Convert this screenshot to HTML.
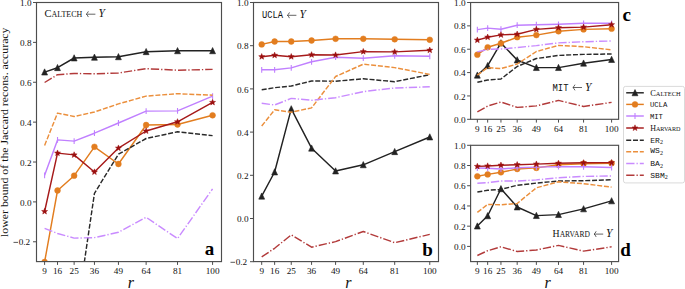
<!DOCTYPE html>
<html><head><meta charset="utf-8"><style>html,body{margin:0;padding:0;background:#fff;}svg{display:block;}</style></head><body>
<svg width="685" height="289" viewBox="0 0 685 289">
<rect width="100%" height="100%" fill="#fff"/>
<defs>
<clipPath id="clipa"><rect x="36.5" y="2.5" width="185" height="259.1"/></clipPath>
<clipPath id="clipb"><rect x="253.5" y="2.5" width="185" height="259.1"/></clipPath>
<clipPath id="clipc"><rect x="470.6" y="2.5" width="148" height="116.8"/></clipPath>
<clipPath id="clipd"><rect x="470.6" y="145.3" width="148" height="116.3"/></clipPath>
</defs>
<g clip-path="url(#clipa)" fill="none" stroke-linejoin="round">
<polyline points="44.6,72.1 57.53,67.7 74.14,58 94.45,57.3 118.44,56.8 146.13,51.7 177.52,50.8 212.59,50.8" stroke="#222222" stroke-width="1.45"/>
<path d="M44.6 68.84L41.66 75.04L47.55 75.04Z" fill="#222222" stroke="#222222" stroke-width="0.6"/>
<path d="M57.53 64.45L54.58 70.64L60.47 70.64Z" fill="#222222" stroke="#222222" stroke-width="0.6"/>
<path d="M74.14 54.74L71.2 60.95L77.08 60.95Z" fill="#222222" stroke="#222222" stroke-width="0.6"/>
<path d="M94.45 54.04L91.5 60.24L97.39 60.24Z" fill="#222222" stroke="#222222" stroke-width="0.6"/>
<path d="M118.44 53.54L115.5 59.74L121.39 59.74Z" fill="#222222" stroke="#222222" stroke-width="0.6"/>
<path d="M146.13 48.45L143.19 54.65L149.08 54.65Z" fill="#222222" stroke="#222222" stroke-width="0.6"/>
<path d="M177.52 47.54L174.57 53.74L180.46 53.74Z" fill="#222222" stroke="#222222" stroke-width="0.6"/>
<path d="M212.59 47.54L209.65 53.74L215.54 53.74Z" fill="#222222" stroke="#222222" stroke-width="0.6"/>
<polyline points="44.6,262 57.53,190.5 74.14,175.7 94.45,146.8 118.44,164 146.13,125 177.52,124.5 212.59,115.3" stroke="#e27d1f" stroke-width="1.45"/>
<circle cx="44.6" cy="262" r="2.9" fill="#e27d1f" stroke="#e27d1f" stroke-width="0.5"/>
<circle cx="57.53" cy="190.5" r="2.9" fill="#e27d1f" stroke="#e27d1f" stroke-width="0.5"/>
<circle cx="74.14" cy="175.7" r="2.9" fill="#e27d1f" stroke="#e27d1f" stroke-width="0.5"/>
<circle cx="94.45" cy="146.8" r="2.9" fill="#e27d1f" stroke="#e27d1f" stroke-width="0.5"/>
<circle cx="118.44" cy="164" r="2.9" fill="#e27d1f" stroke="#e27d1f" stroke-width="0.5"/>
<circle cx="146.13" cy="125" r="2.9" fill="#e27d1f" stroke="#e27d1f" stroke-width="0.5"/>
<circle cx="177.52" cy="124.5" r="2.9" fill="#e27d1f" stroke="#e27d1f" stroke-width="0.5"/>
<circle cx="212.59" cy="115.3" r="2.9" fill="#e27d1f" stroke="#e27d1f" stroke-width="0.5"/>
<polyline points="44.6,175.3 57.53,139.9 74.14,141.1 94.45,133.2 118.44,123 146.13,111.1 177.52,110.9 212.59,96.1" stroke="#c080ff" stroke-width="1.45"/>
<path d="M44.6 172.4V178.2" stroke="#c080ff" stroke-width="1.1" fill="none"/>
<path d="M57.53 137V142.8" stroke="#c080ff" stroke-width="1.1" fill="none"/>
<path d="M74.14 138.2V144" stroke="#c080ff" stroke-width="1.1" fill="none"/>
<path d="M94.45 130.3V136.1" stroke="#c080ff" stroke-width="1.1" fill="none"/>
<path d="M118.44 120.1V125.9" stroke="#c080ff" stroke-width="1.1" fill="none"/>
<path d="M146.13 108.2V114" stroke="#c080ff" stroke-width="1.1" fill="none"/>
<path d="M177.52 108V113.8" stroke="#c080ff" stroke-width="1.1" fill="none"/>
<path d="M212.59 93.2V99" stroke="#c080ff" stroke-width="1.1" fill="none"/>
<polyline points="44.6,211.5 57.53,153.1 74.14,154.9 94.45,172 118.44,148.1 146.13,131 177.52,121.8 212.59,102.4" stroke="#a61a1a" stroke-width="1.45"/>
<polygon points="44.6,208.35 45.4,210.41 47.6,210.53 45.89,211.92 46.46,214.05 44.6,212.85 42.75,214.05 43.32,211.92 41.61,210.53 43.81,210.41" fill="#9a0f0f" stroke="#9a0f0f" stroke-width="0.5"/>
<polygon points="57.53,149.95 58.32,152.01 60.52,152.13 58.81,153.52 59.38,155.65 57.53,154.45 55.67,155.65 56.24,153.52 54.53,152.13 56.73,152.01" fill="#9a0f0f" stroke="#9a0f0f" stroke-width="0.5"/>
<polygon points="74.14,151.75 74.93,153.81 77.14,153.93 75.42,155.32 75.99,157.45 74.14,156.25 72.29,157.45 72.86,155.32 71.14,153.93 73.35,153.81" fill="#9a0f0f" stroke="#9a0f0f" stroke-width="0.5"/>
<polygon points="94.45,168.85 95.24,170.91 97.44,171.03 95.73,172.42 96.3,174.55 94.45,173.35 92.59,174.55 93.16,172.42 91.45,171.03 93.65,170.91" fill="#9a0f0f" stroke="#9a0f0f" stroke-width="0.5"/>
<polygon points="118.44,144.95 119.24,147.01 121.44,147.13 119.73,148.52 120.3,150.65 118.44,149.45 116.59,150.65 117.16,148.52 115.45,147.13 117.65,147.01" fill="#9a0f0f" stroke="#9a0f0f" stroke-width="0.5"/>
<polygon points="146.13,127.85 146.93,129.91 149.13,130.03 147.42,131.42 147.99,133.55 146.13,132.35 144.28,133.55 144.85,131.42 143.14,130.03 145.34,129.91" fill="#9a0f0f" stroke="#9a0f0f" stroke-width="0.5"/>
<polygon points="177.52,118.65 178.31,120.71 180.51,120.83 178.8,122.22 179.37,124.35 177.52,123.15 175.66,124.35 176.23,122.22 174.52,120.83 176.72,120.71" fill="#9a0f0f" stroke="#9a0f0f" stroke-width="0.5"/>
<polygon points="212.59,99.25 213.38,101.31 215.59,101.43 213.87,102.82 214.44,104.95 212.59,103.75 210.74,104.95 211.31,102.82 209.59,101.43 211.8,101.31" fill="#9a0f0f" stroke="#9a0f0f" stroke-width="0.5"/>
<polyline points="44.6,420 57.53,380 74.14,331.3 94.45,193.3 118.44,154.2 146.13,138.5 177.52,131.8 212.59,135.6" stroke="#2a2a2a" stroke-width="1.45" stroke-dasharray="5,1.8"/>
<polyline points="44.6,145.5 57.53,113.1 74.14,116.5 94.45,112 118.44,103.9 146.13,96.1 177.52,93.7 212.59,95.2" stroke="#eb8f3c" stroke-width="1.45" stroke-dasharray="5,1.8"/>
<polyline points="44.6,228.4 57.53,233.5 74.14,238.1 94.45,237.6 118.44,232.3 146.13,217.3 177.52,238.6 212.59,188.8" stroke="#c98bff" stroke-width="1.45" stroke-dasharray="8.3,2,1.3,2"/>
<polyline points="44.6,82.5 57.53,74.7 74.14,73.5 94.45,73.8 118.44,73 146.13,68.7 177.52,70.2 212.59,69.4" stroke="#b23a3a" stroke-width="1.45" stroke-dasharray="8.3,2,1.3,2"/>
</g>
<rect x="36.5" y="2.5" width="185" height="259.1" fill="none" stroke="#4d4d4d" stroke-width="1.15"/>
<path d="M33 2.5H36.5" stroke="#4d4d4d" stroke-width="1"/>
<text x="31.5" y="6.1" font-family="Liberation Serif" font-size="9.2" text-anchor="end" fill="#111">1.0</text>
<path d="M33 42.38H36.5" stroke="#4d4d4d" stroke-width="1"/>
<text x="31.5" y="45.98" font-family="Liberation Serif" font-size="9.2" text-anchor="end" fill="#111">0.8</text>
<path d="M33 82.26H36.5" stroke="#4d4d4d" stroke-width="1"/>
<text x="31.5" y="85.86" font-family="Liberation Serif" font-size="9.2" text-anchor="end" fill="#111">0.6</text>
<path d="M33 122.14H36.5" stroke="#4d4d4d" stroke-width="1"/>
<text x="31.5" y="125.74" font-family="Liberation Serif" font-size="9.2" text-anchor="end" fill="#111">0.4</text>
<path d="M33 162.02H36.5" stroke="#4d4d4d" stroke-width="1"/>
<text x="31.5" y="165.62" font-family="Liberation Serif" font-size="9.2" text-anchor="end" fill="#111">0.2</text>
<path d="M33 201.9H36.5" stroke="#4d4d4d" stroke-width="1"/>
<text x="31.5" y="205.5" font-family="Liberation Serif" font-size="9.2" text-anchor="end" fill="#111">0.0</text>
<path d="M33 241.78H36.5" stroke="#4d4d4d" stroke-width="1"/>
<text x="30.2" y="245.38" font-family="Liberation Serif" font-size="9.2" text-anchor="end" fill="#111">0.2</text>
<path d="M13.5 242.38H18" stroke="#222" stroke-width="0.75"/>
<path d="M44.6 261.6V264.9" stroke="#4d4d4d" stroke-width="1"/>
<text x="44.6" y="274.3" font-family="Liberation Serif" font-size="9.2" text-anchor="middle" fill="#111">9</text>
<path d="M57.53 261.6V264.9" stroke="#4d4d4d" stroke-width="1"/>
<text x="57.53" y="274.3" font-family="Liberation Serif" font-size="9.2" text-anchor="middle" fill="#111">16</text>
<path d="M74.14 261.6V264.9" stroke="#4d4d4d" stroke-width="1"/>
<text x="74.14" y="274.3" font-family="Liberation Serif" font-size="9.2" text-anchor="middle" fill="#111">25</text>
<path d="M94.45 261.6V264.9" stroke="#4d4d4d" stroke-width="1"/>
<text x="94.45" y="274.3" font-family="Liberation Serif" font-size="9.2" text-anchor="middle" fill="#111">36</text>
<path d="M118.44 261.6V264.9" stroke="#4d4d4d" stroke-width="1"/>
<text x="118.44" y="274.3" font-family="Liberation Serif" font-size="9.2" text-anchor="middle" fill="#111">49</text>
<path d="M146.13 261.6V264.9" stroke="#4d4d4d" stroke-width="1"/>
<text x="146.13" y="274.3" font-family="Liberation Serif" font-size="9.2" text-anchor="middle" fill="#111">64</text>
<path d="M177.52 261.6V264.9" stroke="#4d4d4d" stroke-width="1"/>
<text x="177.52" y="274.3" font-family="Liberation Serif" font-size="9.2" text-anchor="middle" fill="#111">81</text>
<path d="M212.59 261.6V264.9" stroke="#4d4d4d" stroke-width="1"/>
<text x="212.59" y="274.3" font-family="Liberation Serif" font-size="9.2" text-anchor="middle" fill="#111">100</text>
<g clip-path="url(#clipb)" fill="none" stroke-linejoin="round">
<polyline points="261.7,196.2 274.63,172 291.25,108.9 311.57,148.2 335.58,171 363.29,164.8 394.69,151.7 429.78,137" stroke="#222222" stroke-width="1.45"/>
<path d="M261.7 192.94L258.76 199.14L264.65 199.14Z" fill="#222222" stroke="#222222" stroke-width="0.6"/>
<path d="M274.63 168.75L271.69 174.94L277.58 174.94Z" fill="#222222" stroke="#222222" stroke-width="0.6"/>
<path d="M291.25 105.65L288.31 111.84L294.2 111.84Z" fill="#222222" stroke="#222222" stroke-width="0.6"/>
<path d="M311.57 144.94L308.63 151.14L314.52 151.14Z" fill="#222222" stroke="#222222" stroke-width="0.6"/>
<path d="M335.58 167.75L332.64 173.94L338.53 173.94Z" fill="#222222" stroke="#222222" stroke-width="0.6"/>
<path d="M363.29 161.55L360.34 167.75L366.23 167.75Z" fill="#222222" stroke="#222222" stroke-width="0.6"/>
<path d="M394.69 148.44L391.74 154.64L397.63 154.64Z" fill="#222222" stroke="#222222" stroke-width="0.6"/>
<path d="M429.78 133.75L426.83 139.94L432.72 139.94Z" fill="#222222" stroke="#222222" stroke-width="0.6"/>
<polyline points="261.7,44.4 274.63,41.5 291.25,41.5 311.57,40.5 335.58,38.8 363.29,38.8 394.69,39.3 429.78,39.8" stroke="#e27d1f" stroke-width="1.45"/>
<circle cx="261.7" cy="44.4" r="2.9" fill="#e27d1f" stroke="#e27d1f" stroke-width="0.5"/>
<circle cx="274.63" cy="41.5" r="2.9" fill="#e27d1f" stroke="#e27d1f" stroke-width="0.5"/>
<circle cx="291.25" cy="41.5" r="2.9" fill="#e27d1f" stroke="#e27d1f" stroke-width="0.5"/>
<circle cx="311.57" cy="40.5" r="2.9" fill="#e27d1f" stroke="#e27d1f" stroke-width="0.5"/>
<circle cx="335.58" cy="38.8" r="2.9" fill="#e27d1f" stroke="#e27d1f" stroke-width="0.5"/>
<circle cx="363.29" cy="38.8" r="2.9" fill="#e27d1f" stroke="#e27d1f" stroke-width="0.5"/>
<circle cx="394.69" cy="39.3" r="2.9" fill="#e27d1f" stroke="#e27d1f" stroke-width="0.5"/>
<circle cx="429.78" cy="39.8" r="2.9" fill="#e27d1f" stroke="#e27d1f" stroke-width="0.5"/>
<polyline points="261.7,69.8 274.63,69.8 291.25,67.9 311.57,61.8 335.58,57.2 363.29,58.2 394.69,55.8 429.78,56.3" stroke="#c080ff" stroke-width="1.45"/>
<path d="M261.7 66.9V72.7" stroke="#c080ff" stroke-width="1.1" fill="none"/>
<path d="M274.63 66.9V72.7" stroke="#c080ff" stroke-width="1.1" fill="none"/>
<path d="M291.25 65V70.8" stroke="#c080ff" stroke-width="1.1" fill="none"/>
<path d="M311.57 58.9V64.7" stroke="#c080ff" stroke-width="1.1" fill="none"/>
<path d="M335.58 54.3V60.1" stroke="#c080ff" stroke-width="1.1" fill="none"/>
<path d="M363.29 55.3V61.1" stroke="#c080ff" stroke-width="1.1" fill="none"/>
<path d="M394.69 52.9V58.7" stroke="#c080ff" stroke-width="1.1" fill="none"/>
<path d="M429.78 53.4V59.2" stroke="#c080ff" stroke-width="1.1" fill="none"/>
<polyline points="261.7,56.7 274.63,55.3 291.25,56.7 311.57,54.8 335.58,55 363.29,51.6 394.69,51.9 429.78,50.2" stroke="#a61a1a" stroke-width="1.45"/>
<polygon points="261.7,53.55 262.5,55.61 264.7,55.73 262.99,57.12 263.55,59.25 261.7,58.05 259.85,59.25 260.42,57.12 258.71,55.73 260.91,55.61" fill="#9a0f0f" stroke="#9a0f0f" stroke-width="0.5"/>
<polygon points="274.63,52.15 275.43,54.21 277.63,54.33 275.92,55.72 276.48,57.85 274.63,56.65 272.78,57.85 273.35,55.72 271.64,54.33 273.84,54.21" fill="#9a0f0f" stroke="#9a0f0f" stroke-width="0.5"/>
<polygon points="291.25,53.55 292.05,55.61 294.25,55.73 292.54,57.12 293.11,59.25 291.25,58.05 289.4,59.25 289.97,57.12 288.26,55.73 290.46,55.61" fill="#9a0f0f" stroke="#9a0f0f" stroke-width="0.5"/>
<polygon points="311.57,51.65 312.37,53.71 314.57,53.83 312.86,55.22 313.42,57.35 311.57,56.15 309.72,57.35 310.29,55.22 308.58,53.83 310.78,53.71" fill="#9a0f0f" stroke="#9a0f0f" stroke-width="0.5"/>
<polygon points="335.58,51.85 336.38,53.91 338.58,54.03 336.87,55.42 337.43,57.55 335.58,56.35 333.73,57.55 334.3,55.42 332.59,54.03 334.79,53.91" fill="#9a0f0f" stroke="#9a0f0f" stroke-width="0.5"/>
<polygon points="363.29,48.45 364.08,50.51 366.28,50.63 364.57,52.02 365.14,54.15 363.29,52.95 361.44,54.15 362,52.02 360.29,50.63 362.49,50.51" fill="#9a0f0f" stroke="#9a0f0f" stroke-width="0.5"/>
<polygon points="394.69,48.75 395.48,50.81 397.68,50.93 395.97,52.32 396.54,54.45 394.69,53.25 392.84,54.45 393.4,52.32 391.69,50.93 393.89,50.81" fill="#9a0f0f" stroke="#9a0f0f" stroke-width="0.5"/>
<polygon points="429.78,47.05 430.57,49.11 432.78,49.23 431.06,50.62 431.63,52.75 429.78,51.55 427.93,52.75 428.5,50.62 426.78,49.23 428.99,49.11" fill="#9a0f0f" stroke="#9a0f0f" stroke-width="0.5"/>
<polyline points="261.7,89.7 274.63,87.7 291.25,86 311.57,81 335.58,81.2 363.29,78.8 394.69,81.7 429.78,74.7" stroke="#2a2a2a" stroke-width="1.45" stroke-dasharray="5,1.8"/>
<polyline points="261.7,126 274.63,109.8 291.25,112.2 311.57,107.9 335.58,76.5 363.29,64.2 394.69,67.6 429.78,74.4" stroke="#eb8f3c" stroke-width="1.45" stroke-dasharray="5,1.8"/>
<polyline points="261.7,103.3 274.63,105 291.25,98.4 311.57,100.3 335.58,97.7 363.29,91.6 394.69,88 429.78,86.8" stroke="#c98bff" stroke-width="1.45" stroke-dasharray="8.3,2,1.3,2"/>
<polyline points="261.7,256.9 274.63,248.3 291.25,234.9 311.57,247.2 335.58,241.6 363.29,231.5 394.69,242.7 429.78,234.4" stroke="#b23a3a" stroke-width="1.45" stroke-dasharray="8.3,2,1.3,2"/>
</g>
<rect x="253.5" y="2.5" width="185" height="259.1" fill="none" stroke="#4d4d4d" stroke-width="1.15"/>
<path d="M250 2.5H253.5" stroke="#4d4d4d" stroke-width="1"/>
<text x="248.5" y="6.1" font-family="Liberation Serif" font-size="9.2" text-anchor="end" fill="#111">1.0</text>
<path d="M250 45.7H253.5" stroke="#4d4d4d" stroke-width="1"/>
<text x="248.5" y="49.3" font-family="Liberation Serif" font-size="9.2" text-anchor="end" fill="#111">0.8</text>
<path d="M250 88.9H253.5" stroke="#4d4d4d" stroke-width="1"/>
<text x="248.5" y="92.5" font-family="Liberation Serif" font-size="9.2" text-anchor="end" fill="#111">0.6</text>
<path d="M250 132.1H253.5" stroke="#4d4d4d" stroke-width="1"/>
<text x="248.5" y="135.7" font-family="Liberation Serif" font-size="9.2" text-anchor="end" fill="#111">0.4</text>
<path d="M250 175.3H253.5" stroke="#4d4d4d" stroke-width="1"/>
<text x="248.5" y="178.9" font-family="Liberation Serif" font-size="9.2" text-anchor="end" fill="#111">0.2</text>
<path d="M250 218.5H253.5" stroke="#4d4d4d" stroke-width="1"/>
<text x="248.5" y="222.1" font-family="Liberation Serif" font-size="9.2" text-anchor="end" fill="#111">0.0</text>
<path d="M250 261.7H253.5" stroke="#4d4d4d" stroke-width="1"/>
<text x="247.2" y="265.3" font-family="Liberation Serif" font-size="9.2" text-anchor="end" fill="#111">0.2</text>
<path d="M230.5 262.3H235" stroke="#222" stroke-width="0.75"/>
<path d="M261.7 261.6V264.9" stroke="#4d4d4d" stroke-width="1"/>
<text x="261.7" y="274.3" font-family="Liberation Serif" font-size="9.2" text-anchor="middle" fill="#111">9</text>
<path d="M274.63 261.6V264.9" stroke="#4d4d4d" stroke-width="1"/>
<text x="274.63" y="274.3" font-family="Liberation Serif" font-size="9.2" text-anchor="middle" fill="#111">16</text>
<path d="M291.25 261.6V264.9" stroke="#4d4d4d" stroke-width="1"/>
<text x="291.25" y="274.3" font-family="Liberation Serif" font-size="9.2" text-anchor="middle" fill="#111">25</text>
<path d="M311.57 261.6V264.9" stroke="#4d4d4d" stroke-width="1"/>
<text x="311.57" y="274.3" font-family="Liberation Serif" font-size="9.2" text-anchor="middle" fill="#111">36</text>
<path d="M335.58 261.6V264.9" stroke="#4d4d4d" stroke-width="1"/>
<text x="335.58" y="274.3" font-family="Liberation Serif" font-size="9.2" text-anchor="middle" fill="#111">49</text>
<path d="M363.29 261.6V264.9" stroke="#4d4d4d" stroke-width="1"/>
<text x="363.29" y="274.3" font-family="Liberation Serif" font-size="9.2" text-anchor="middle" fill="#111">64</text>
<path d="M394.69 261.6V264.9" stroke="#4d4d4d" stroke-width="1"/>
<text x="394.69" y="274.3" font-family="Liberation Serif" font-size="9.2" text-anchor="middle" fill="#111">81</text>
<path d="M429.78 261.6V264.9" stroke="#4d4d4d" stroke-width="1"/>
<text x="429.78" y="274.3" font-family="Liberation Serif" font-size="9.2" text-anchor="middle" fill="#111">100</text>
<g clip-path="url(#clipc)" fill="none" stroke-linejoin="round">
<polyline points="477.35,75.2 487.67,65.7 500.95,42.9 517.18,60 536.36,67.6 558.49,67.6 583.57,63.2 611.6,59.5" stroke="#222222" stroke-width="1.45"/>
<path d="M477.35 71.95L474.4 78.14L480.29 78.14Z" fill="#222222" stroke="#222222" stroke-width="0.6"/>
<path d="M487.67 62.45L484.73 68.64L490.62 68.64Z" fill="#222222" stroke="#222222" stroke-width="0.6"/>
<path d="M500.95 39.64L498.01 45.84L503.9 45.84Z" fill="#222222" stroke="#222222" stroke-width="0.6"/>
<path d="M517.18 56.74L514.24 62.95L520.13 62.95Z" fill="#222222" stroke="#222222" stroke-width="0.6"/>
<path d="M536.36 64.34L533.41 70.54L539.3 70.54Z" fill="#222222" stroke="#222222" stroke-width="0.6"/>
<path d="M558.49 64.34L555.54 70.54L561.43 70.54Z" fill="#222222" stroke="#222222" stroke-width="0.6"/>
<path d="M583.57 59.95L580.62 66.14L586.51 66.14Z" fill="#222222" stroke="#222222" stroke-width="0.6"/>
<path d="M611.6 56.24L608.65 62.45L614.55 62.45Z" fill="#222222" stroke="#222222" stroke-width="0.6"/>
<polyline points="477.35,54.7 487.67,47.3 500.95,43.3 517.18,37.2 536.36,35.1 558.49,31.3 583.57,29.4 611.6,28.7" stroke="#e27d1f" stroke-width="1.45"/>
<circle cx="477.35" cy="54.7" r="2.9" fill="#e27d1f" stroke="#e27d1f" stroke-width="0.5"/>
<circle cx="487.67" cy="47.3" r="2.9" fill="#e27d1f" stroke="#e27d1f" stroke-width="0.5"/>
<circle cx="500.95" cy="43.3" r="2.9" fill="#e27d1f" stroke="#e27d1f" stroke-width="0.5"/>
<circle cx="517.18" cy="37.2" r="2.9" fill="#e27d1f" stroke="#e27d1f" stroke-width="0.5"/>
<circle cx="536.36" cy="35.1" r="2.9" fill="#e27d1f" stroke="#e27d1f" stroke-width="0.5"/>
<circle cx="558.49" cy="31.3" r="2.9" fill="#e27d1f" stroke="#e27d1f" stroke-width="0.5"/>
<circle cx="583.57" cy="29.4" r="2.9" fill="#e27d1f" stroke="#e27d1f" stroke-width="0.5"/>
<circle cx="611.6" cy="28.7" r="2.9" fill="#e27d1f" stroke="#e27d1f" stroke-width="0.5"/>
<polyline points="477.35,29.6 487.67,28.1 500.95,29.2 517.18,25.2 536.36,24.7 558.49,24.3 583.57,23.3 611.6,23.3" stroke="#c080ff" stroke-width="1.45"/>
<path d="M477.35 26.7V32.5" stroke="#c080ff" stroke-width="1.1" fill="none"/>
<path d="M487.67 25.2V31" stroke="#c080ff" stroke-width="1.1" fill="none"/>
<path d="M500.95 26.3V32.1" stroke="#c080ff" stroke-width="1.1" fill="none"/>
<path d="M517.18 22.3V28.1" stroke="#c080ff" stroke-width="1.1" fill="none"/>
<path d="M536.36 21.8V27.6" stroke="#c080ff" stroke-width="1.1" fill="none"/>
<path d="M558.49 21.4V27.2" stroke="#c080ff" stroke-width="1.1" fill="none"/>
<path d="M583.57 20.4V26.2" stroke="#c080ff" stroke-width="1.1" fill="none"/>
<path d="M611.6 20.4V26.2" stroke="#c080ff" stroke-width="1.1" fill="none"/>
<polyline points="477.35,40.1 487.67,37.2 500.95,34.9 517.18,34.2 536.36,29.4 558.49,27.7 583.57,27.1 611.6,24.7" stroke="#a61a1a" stroke-width="1.45"/>
<polygon points="477.35,36.95 478.14,39.01 480.34,39.13 478.63,40.52 479.2,42.65 477.35,41.45 475.5,42.65 476.06,40.52 474.35,39.13 476.55,39.01" fill="#9a0f0f" stroke="#9a0f0f" stroke-width="0.5"/>
<polygon points="487.67,34.05 488.47,36.11 490.67,36.23 488.96,37.62 489.53,39.75 487.67,38.55 485.82,39.75 486.39,37.62 484.68,36.23 486.88,36.11" fill="#9a0f0f" stroke="#9a0f0f" stroke-width="0.5"/>
<polygon points="500.95,31.75 501.75,33.81 503.95,33.93 502.24,35.32 502.8,37.45 500.95,36.25 499.1,37.45 499.67,35.32 497.96,33.93 500.16,33.81" fill="#9a0f0f" stroke="#9a0f0f" stroke-width="0.5"/>
<polygon points="517.18,31.05 517.97,33.11 520.18,33.23 518.46,34.62 519.03,36.75 517.18,35.55 515.33,36.75 515.9,34.62 514.18,33.23 516.39,33.11" fill="#9a0f0f" stroke="#9a0f0f" stroke-width="0.5"/>
<polygon points="536.36,26.25 537.15,28.31 539.36,28.43 537.64,29.82 538.21,31.95 536.36,30.75 534.51,31.95 535.08,29.82 533.36,28.43 535.57,28.31" fill="#9a0f0f" stroke="#9a0f0f" stroke-width="0.5"/>
<polygon points="558.49,24.55 559.28,26.61 561.49,26.73 559.77,28.12 560.34,30.25 558.49,29.05 556.64,30.25 557.21,28.12 555.49,26.73 557.7,26.61" fill="#9a0f0f" stroke="#9a0f0f" stroke-width="0.5"/>
<polygon points="583.57,23.95 584.36,26.01 586.57,26.13 584.85,27.52 585.42,29.65 583.57,28.45 581.72,29.65 582.29,27.52 580.57,26.13 582.78,26.01" fill="#9a0f0f" stroke="#9a0f0f" stroke-width="0.5"/>
<polygon points="611.6,21.55 612.39,23.61 614.6,23.73 612.88,25.12 613.45,27.25 611.6,26.05 609.75,27.25 610.32,25.12 608.6,23.73 610.81,23.61" fill="#9a0f0f" stroke="#9a0f0f" stroke-width="0.5"/>
<polyline points="477.35,82.3 487.67,80 500.95,79 517.18,66.5 536.36,58.5 558.49,55.4 583.57,54.4 611.6,54" stroke="#2a2a2a" stroke-width="1.45" stroke-dasharray="5,1.8"/>
<polyline points="477.35,75.2 487.67,67.6 500.95,68.6 517.18,64 536.36,51.5 558.49,45.4 583.57,46.7 611.6,49.8" stroke="#eb8f3c" stroke-width="1.45" stroke-dasharray="5,1.8"/>
<polyline points="477.35,51.9 487.67,49.4 500.95,49 517.18,47.5 536.36,45.6 558.49,42.9 583.57,41.7 611.6,41" stroke="#c98bff" stroke-width="1.45" stroke-dasharray="8.3,2,1.3,2"/>
<polyline points="477.35,111.8 487.67,106.1 500.95,102 517.18,107.4 536.36,105.9 558.49,100.4 583.57,106.5 611.6,102.4" stroke="#b23a3a" stroke-width="1.45" stroke-dasharray="8.3,2,1.3,2"/>
</g>
<rect x="470.6" y="2.5" width="148" height="116.8" fill="none" stroke="#4d4d4d" stroke-width="1.15"/>
<path d="M467.1 2.5H470.6" stroke="#4d4d4d" stroke-width="1"/>
<text x="465.6" y="6.1" font-family="Liberation Serif" font-size="9.2" text-anchor="end" fill="#111">1.0</text>
<path d="M467.1 25.86H470.6" stroke="#4d4d4d" stroke-width="1"/>
<text x="465.6" y="29.46" font-family="Liberation Serif" font-size="9.2" text-anchor="end" fill="#111">0.8</text>
<path d="M467.1 49.22H470.6" stroke="#4d4d4d" stroke-width="1"/>
<text x="465.6" y="52.82" font-family="Liberation Serif" font-size="9.2" text-anchor="end" fill="#111">0.6</text>
<path d="M467.1 72.58H470.6" stroke="#4d4d4d" stroke-width="1"/>
<text x="465.6" y="76.18" font-family="Liberation Serif" font-size="9.2" text-anchor="end" fill="#111">0.4</text>
<path d="M467.1 95.94H470.6" stroke="#4d4d4d" stroke-width="1"/>
<text x="465.6" y="99.54" font-family="Liberation Serif" font-size="9.2" text-anchor="end" fill="#111">0.2</text>
<path d="M467.1 119.3H470.6" stroke="#4d4d4d" stroke-width="1"/>
<text x="465.6" y="122.9" font-family="Liberation Serif" font-size="9.2" text-anchor="end" fill="#111">0.0</text>
<path d="M477.35 119.3V122.6" stroke="#4d4d4d" stroke-width="1"/>
<text x="477.35" y="132" font-family="Liberation Serif" font-size="9.2" text-anchor="middle" fill="#111">9</text>
<path d="M487.67 119.3V122.6" stroke="#4d4d4d" stroke-width="1"/>
<text x="487.67" y="132" font-family="Liberation Serif" font-size="9.2" text-anchor="middle" fill="#111">16</text>
<path d="M500.95 119.3V122.6" stroke="#4d4d4d" stroke-width="1"/>
<text x="500.95" y="132" font-family="Liberation Serif" font-size="9.2" text-anchor="middle" fill="#111">25</text>
<path d="M517.18 119.3V122.6" stroke="#4d4d4d" stroke-width="1"/>
<text x="517.18" y="132" font-family="Liberation Serif" font-size="9.2" text-anchor="middle" fill="#111">36</text>
<path d="M536.36 119.3V122.6" stroke="#4d4d4d" stroke-width="1"/>
<text x="536.36" y="132" font-family="Liberation Serif" font-size="9.2" text-anchor="middle" fill="#111">49</text>
<path d="M558.49 119.3V122.6" stroke="#4d4d4d" stroke-width="1"/>
<text x="558.49" y="132" font-family="Liberation Serif" font-size="9.2" text-anchor="middle" fill="#111">64</text>
<path d="M583.57 119.3V122.6" stroke="#4d4d4d" stroke-width="1"/>
<text x="583.57" y="132" font-family="Liberation Serif" font-size="9.2" text-anchor="middle" fill="#111">81</text>
<path d="M611.6 119.3V122.6" stroke="#4d4d4d" stroke-width="1"/>
<text x="611.6" y="132" font-family="Liberation Serif" font-size="9.2" text-anchor="middle" fill="#111">100</text>
<g clip-path="url(#clipd)" fill="none" stroke-linejoin="round">
<polyline points="477.35,226.1 487.67,215.8 500.95,188.8 517.18,207 536.36,215.6 558.49,214.6 583.57,208.9 611.6,200.9" stroke="#222222" stroke-width="1.45"/>
<path d="M477.35 222.84L474.4 229.04L480.29 229.04Z" fill="#222222" stroke="#222222" stroke-width="0.6"/>
<path d="M487.67 212.55L484.73 218.75L490.62 218.75Z" fill="#222222" stroke="#222222" stroke-width="0.6"/>
<path d="M500.95 185.55L498.01 191.75L503.9 191.75Z" fill="#222222" stroke="#222222" stroke-width="0.6"/>
<path d="M517.18 203.75L514.24 209.94L520.13 209.94Z" fill="#222222" stroke="#222222" stroke-width="0.6"/>
<path d="M536.36 212.34L533.41 218.54L539.3 218.54Z" fill="#222222" stroke="#222222" stroke-width="0.6"/>
<path d="M558.49 211.34L555.54 217.54L561.43 217.54Z" fill="#222222" stroke="#222222" stroke-width="0.6"/>
<path d="M583.57 205.65L580.62 211.84L586.51 211.84Z" fill="#222222" stroke="#222222" stroke-width="0.6"/>
<path d="M611.6 197.65L608.65 203.84L614.55 203.84Z" fill="#222222" stroke="#222222" stroke-width="0.6"/>
<polyline points="477.35,176.3 487.67,174.4 500.95,172.3 517.18,169 536.36,167.9 558.49,164.8 583.57,163.7 611.6,163.3" stroke="#e27d1f" stroke-width="1.45"/>
<circle cx="477.35" cy="176.3" r="2.9" fill="#e27d1f" stroke="#e27d1f" stroke-width="0.5"/>
<circle cx="487.67" cy="174.4" r="2.9" fill="#e27d1f" stroke="#e27d1f" stroke-width="0.5"/>
<circle cx="500.95" cy="172.3" r="2.9" fill="#e27d1f" stroke="#e27d1f" stroke-width="0.5"/>
<circle cx="517.18" cy="169" r="2.9" fill="#e27d1f" stroke="#e27d1f" stroke-width="0.5"/>
<circle cx="536.36" cy="167.9" r="2.9" fill="#e27d1f" stroke="#e27d1f" stroke-width="0.5"/>
<circle cx="558.49" cy="164.8" r="2.9" fill="#e27d1f" stroke="#e27d1f" stroke-width="0.5"/>
<circle cx="583.57" cy="163.7" r="2.9" fill="#e27d1f" stroke="#e27d1f" stroke-width="0.5"/>
<circle cx="611.6" cy="163.3" r="2.9" fill="#e27d1f" stroke="#e27d1f" stroke-width="0.5"/>
<polyline points="477.35,168 487.67,168.3 500.95,169 517.18,167.7 536.36,167.1 558.49,166.6 583.57,166.8 611.6,167.5" stroke="#c080ff" stroke-width="1.45"/>
<path d="M477.35 165.1V170.9" stroke="#c080ff" stroke-width="1.1" fill="none"/>
<path d="M487.67 165.4V171.2" stroke="#c080ff" stroke-width="1.1" fill="none"/>
<path d="M500.95 166.1V171.9" stroke="#c080ff" stroke-width="1.1" fill="none"/>
<path d="M517.18 164.8V170.6" stroke="#c080ff" stroke-width="1.1" fill="none"/>
<path d="M536.36 164.2V170" stroke="#c080ff" stroke-width="1.1" fill="none"/>
<path d="M558.49 163.7V169.5" stroke="#c080ff" stroke-width="1.1" fill="none"/>
<path d="M583.57 163.9V169.7" stroke="#c080ff" stroke-width="1.1" fill="none"/>
<path d="M611.6 164.6V170.4" stroke="#c080ff" stroke-width="1.1" fill="none"/>
<polyline points="477.35,166.4 487.67,166 500.95,165.2 517.18,164.7 536.36,164.1 558.49,163.3 583.57,162.8 611.6,162.6" stroke="#a61a1a" stroke-width="1.45"/>
<polygon points="477.35,163.25 478.14,165.31 480.34,165.43 478.63,166.82 479.2,168.95 477.35,167.75 475.5,168.95 476.06,166.82 474.35,165.43 476.55,165.31" fill="#9a0f0f" stroke="#9a0f0f" stroke-width="0.5"/>
<polygon points="487.67,162.85 488.47,164.91 490.67,165.03 488.96,166.42 489.53,168.55 487.67,167.35 485.82,168.55 486.39,166.42 484.68,165.03 486.88,164.91" fill="#9a0f0f" stroke="#9a0f0f" stroke-width="0.5"/>
<polygon points="500.95,162.05 501.75,164.11 503.95,164.23 502.24,165.62 502.8,167.75 500.95,166.55 499.1,167.75 499.67,165.62 497.96,164.23 500.16,164.11" fill="#9a0f0f" stroke="#9a0f0f" stroke-width="0.5"/>
<polygon points="517.18,161.55 517.97,163.61 520.18,163.73 518.46,165.12 519.03,167.25 517.18,166.05 515.33,167.25 515.9,165.12 514.18,163.73 516.39,163.61" fill="#9a0f0f" stroke="#9a0f0f" stroke-width="0.5"/>
<polygon points="536.36,160.95 537.15,163.01 539.36,163.13 537.64,164.52 538.21,166.65 536.36,165.45 534.51,166.65 535.08,164.52 533.36,163.13 535.57,163.01" fill="#9a0f0f" stroke="#9a0f0f" stroke-width="0.5"/>
<polygon points="558.49,160.15 559.28,162.21 561.49,162.33 559.77,163.72 560.34,165.85 558.49,164.65 556.64,165.85 557.21,163.72 555.49,162.33 557.7,162.21" fill="#9a0f0f" stroke="#9a0f0f" stroke-width="0.5"/>
<polygon points="583.57,159.65 584.36,161.71 586.57,161.83 584.85,163.22 585.42,165.35 583.57,164.15 581.72,165.35 582.29,163.22 580.57,161.83 582.78,161.71" fill="#9a0f0f" stroke="#9a0f0f" stroke-width="0.5"/>
<polygon points="611.6,159.45 612.39,161.51 614.6,161.63 612.88,163.02 613.45,165.15 611.6,163.95 609.75,165.15 610.32,163.02 608.6,161.63 610.81,161.51" fill="#9a0f0f" stroke="#9a0f0f" stroke-width="0.5"/>
<polyline points="477.35,192 487.67,190.3 500.95,189.4 517.18,185.3 536.36,183.1 558.49,181 583.57,180.7 611.6,179.8" stroke="#2a2a2a" stroke-width="1.45" stroke-dasharray="5,1.8"/>
<polyline points="477.35,212.4 487.67,204.4 500.95,204.8 517.18,203.5 536.36,187.8 558.49,181.8 583.57,183.7 611.6,187.1" stroke="#eb8f3c" stroke-width="1.45" stroke-dasharray="5,1.8"/>
<polyline points="477.35,183.3 487.67,182.7 500.95,181 517.18,181 536.36,179.9 558.49,177.7 583.57,176.4 611.6,175.9" stroke="#c98bff" stroke-width="1.45" stroke-dasharray="8.3,2,1.3,2"/>
<polyline points="477.35,255.5 487.67,250.7 500.95,246.8 517.18,251.5 536.36,250 558.49,245.4 583.57,251.1 611.6,246.8" stroke="#b23a3a" stroke-width="1.45" stroke-dasharray="8.3,2,1.3,2"/>
</g>
<rect x="470.6" y="145.3" width="148" height="116.3" fill="none" stroke="#4d4d4d" stroke-width="1.15"/>
<path d="M467.1 145.3H470.6" stroke="#4d4d4d" stroke-width="1"/>
<text x="465.6" y="148.9" font-family="Liberation Serif" font-size="9.2" text-anchor="end" fill="#111">1.0</text>
<path d="M467.1 165.52H470.6" stroke="#4d4d4d" stroke-width="1"/>
<text x="465.6" y="169.12" font-family="Liberation Serif" font-size="9.2" text-anchor="end" fill="#111">0.8</text>
<path d="M467.1 185.74H470.6" stroke="#4d4d4d" stroke-width="1"/>
<text x="465.6" y="189.34" font-family="Liberation Serif" font-size="9.2" text-anchor="end" fill="#111">0.6</text>
<path d="M467.1 205.96H470.6" stroke="#4d4d4d" stroke-width="1"/>
<text x="465.6" y="209.56" font-family="Liberation Serif" font-size="9.2" text-anchor="end" fill="#111">0.4</text>
<path d="M467.1 226.18H470.6" stroke="#4d4d4d" stroke-width="1"/>
<text x="465.6" y="229.78" font-family="Liberation Serif" font-size="9.2" text-anchor="end" fill="#111">0.2</text>
<path d="M467.1 246.4H470.6" stroke="#4d4d4d" stroke-width="1"/>
<text x="465.6" y="250" font-family="Liberation Serif" font-size="9.2" text-anchor="end" fill="#111">0.0</text>
<path d="M477.35 261.6V264.9" stroke="#4d4d4d" stroke-width="1"/>
<text x="477.35" y="274.3" font-family="Liberation Serif" font-size="9.2" text-anchor="middle" fill="#111">9</text>
<path d="M487.67 261.6V264.9" stroke="#4d4d4d" stroke-width="1"/>
<text x="487.67" y="274.3" font-family="Liberation Serif" font-size="9.2" text-anchor="middle" fill="#111">16</text>
<path d="M500.95 261.6V264.9" stroke="#4d4d4d" stroke-width="1"/>
<text x="500.95" y="274.3" font-family="Liberation Serif" font-size="9.2" text-anchor="middle" fill="#111">25</text>
<path d="M517.18 261.6V264.9" stroke="#4d4d4d" stroke-width="1"/>
<text x="517.18" y="274.3" font-family="Liberation Serif" font-size="9.2" text-anchor="middle" fill="#111">36</text>
<path d="M536.36 261.6V264.9" stroke="#4d4d4d" stroke-width="1"/>
<text x="536.36" y="274.3" font-family="Liberation Serif" font-size="9.2" text-anchor="middle" fill="#111">49</text>
<path d="M558.49 261.6V264.9" stroke="#4d4d4d" stroke-width="1"/>
<text x="558.49" y="274.3" font-family="Liberation Serif" font-size="9.2" text-anchor="middle" fill="#111">64</text>
<path d="M583.57 261.6V264.9" stroke="#4d4d4d" stroke-width="1"/>
<text x="583.57" y="274.3" font-family="Liberation Serif" font-size="9.2" text-anchor="middle" fill="#111">81</text>
<path d="M611.6 261.6V264.9" stroke="#4d4d4d" stroke-width="1"/>
<text x="611.6" y="274.3" font-family="Liberation Serif" font-size="9.2" text-anchor="middle" fill="#111">100</text>
<text x="130.9" y="287.8" font-family="Liberation Serif" font-style="italic" font-size="16" text-anchor="middle" fill="#111">r</text>
<text x="348.4" y="287.8" font-family="Liberation Serif" font-style="italic" font-size="16" text-anchor="middle" fill="#111">r</text>
<text x="547.6" y="287.8" font-family="Liberation Serif" font-style="italic" font-size="16" text-anchor="middle" fill="#111">r</text>
<text transform="translate(7.7,132.2) rotate(-90) scale(1.074,1)" font-family="Liberation Serif" font-size="11" text-anchor="middle" fill="#111">lower bound of the Jaccard recons. accuracy</text>
<text x="204.8" y="254.9" font-family="Liberation Serif" font-weight="bold" font-size="19" fill="#000">a</text>
<text x="422.3" y="255.6" font-family="Liberation Serif" font-weight="bold" font-size="19" fill="#000">b</text>
<text x="622.6" y="21.4" font-family="Liberation Serif" font-weight="bold" font-size="19" fill="#000">c</text>
<text x="620.2" y="256" font-family="Liberation Serif" font-weight="bold" font-size="19" fill="#000">d</text>
<text transform="translate(44.6,17) scale(1.02,1)" font-family="Liberation Serif" font-size="10.2" fill="#111">C<tspan font-size="7.85">ALTECH</tspan></text>
<path d="M86.6 14.2H95 M88.2 11.7 Q87.3 13.7 86.3 14.2 Q87.3 14.7 88.2 16.7" stroke="#222" stroke-width="0.7" fill="none" stroke-linecap="round"/>
<text x="98.4" y="17" font-family="Liberation Serif" font-size="11.5" fill="#111" font-style="italic">Y</text>
<text transform="translate(261.9,18) scale(0.86,1)" font-family="Liberation Mono" font-size="10.2" fill="#111">UCLA</text>
<path d="M287.7 15.3H296 M289.3 12.8 Q288.4 14.8 287.4 15.3 Q288.4 15.8 289.3 17.8" stroke="#222" stroke-width="0.7" fill="none" stroke-linecap="round"/>
<text x="299.5" y="18" font-family="Liberation Serif" font-size="11.5" fill="#111" font-style="italic">Y</text>
<text transform="translate(552.5,90.6) scale(0.87,1)" font-family="Liberation Mono" font-size="10.2" fill="#111">MIT</text>
<path d="M573.2 87.5H581.6 M574.8 85 Q573.9 87 572.9 87.5 Q573.9 88 574.8 90" stroke="#222" stroke-width="0.7" fill="none" stroke-linecap="round"/>
<text x="585" y="90.6" font-family="Liberation Serif" font-size="11.5" fill="#111" font-style="italic">Y</text>
<text transform="translate(552.6,236.8) scale(0.96,1)" font-family="Liberation Serif" font-size="10.2" fill="#111">H<tspan font-size="7.85">ARVARD</tspan></text>
<path d="M594.4 234.1H602.8 M596 231.6 Q595.1 233.6 594.1 234.1 Q595.1 234.6 596 236.6" stroke="#222" stroke-width="0.7" fill="none" stroke-linecap="round"/>
<text x="606" y="236.8" font-family="Liberation Serif" font-size="11.5" fill="#111" font-style="italic">Y</text>
<rect x="623.5" y="86.4" width="61" height="96.5" rx="2" ry="2" fill="#fff" fill-opacity="0.8" stroke="#d0d0d0" stroke-width="0.8"/>
<path d="M626.2 92.8H643.8" stroke="#222222" stroke-width="1.45" fill="none"/>
<path d="M635 89.55L632.05 95.74L637.95 95.74Z" fill="#222222" stroke="#222222" stroke-width="0.6"/>
<text transform="translate(650.2,95.7) scale(1.01,1)" font-family="Liberation Serif" font-size="8.3" fill="#111">C<tspan font-size="6.39">ALTECH</tspan></text>
<path d="M626.2 104.4H643.8" stroke="#e27d1f" stroke-width="1.45" fill="none"/>
<circle cx="635" cy="104.4" r="2.9" fill="#e27d1f" stroke="#e27d1f" stroke-width="0.5"/>
<text transform="translate(649.9,107.4) scale(0.91,1)" font-family="Liberation Mono" font-size="8" fill="#111">UCLA</text>
<path d="M626.2 116H643.8" stroke="#c080ff" stroke-width="1.45" fill="none"/>
<path d="M635 113.1V118.9" stroke="#c080ff" stroke-width="1.1" fill="none"/>
<text transform="translate(649.9,119.4) scale(0.91,1)" font-family="Liberation Mono" font-size="8" fill="#111">MIT</text>
<path d="M626.2 128H643.8" stroke="#a61a1a" stroke-width="1.45" fill="none"/>
<polygon points="635,124.85 635.79,126.91 638,127.03 636.28,128.42 636.85,130.55 635,129.35 633.15,130.55 633.72,128.42 632,127.03 634.21,126.91" fill="#9a0f0f" stroke="#9a0f0f" stroke-width="0.5"/>
<text transform="translate(650.2,131) scale(0.96,1)" font-family="Liberation Serif" font-size="8.3" fill="#111">H<tspan font-size="6.39">ARVARD</tspan></text>
<path d="M626.2 140.2H643.8" stroke="#2a2a2a" stroke-width="1.45" stroke-dasharray="5,1.8" fill="none"/>
<text x="650.3" y="142.5" font-family="Liberation Mono" font-size="8" fill="#111">ER<tspan font-family="Liberation Serif" font-size="6" dy="1.4">2</tspan></text>
<path d="M626.2 151.8H643.8" stroke="#eb8f3c" stroke-width="1.45" stroke-dasharray="5,1.8" fill="none"/>
<text x="650.3" y="153.4" font-family="Liberation Mono" font-size="8" fill="#111">WS<tspan font-family="Liberation Serif" font-size="6" dy="1.4">2</tspan></text>
<path d="M626.2 163.4H643.8" stroke="#c98bff" stroke-width="1.45" stroke-dasharray="8.3,2,1.3,2" fill="none"/>
<text x="650.3" y="166.4" font-family="Liberation Mono" font-size="8" fill="#111">BA<tspan font-family="Liberation Serif" font-size="6" dy="1.4">2</tspan></text>
<path d="M626.2 175.3H643.8" stroke="#b23a3a" stroke-width="1.45" stroke-dasharray="8.3,2,1.3,2" fill="none"/>
<text x="650.3" y="178" font-family="Liberation Mono" font-size="8" fill="#111">SBM<tspan font-family="Liberation Serif" font-size="6" dy="1.4">2</tspan></text>
</svg>
</body></html>
